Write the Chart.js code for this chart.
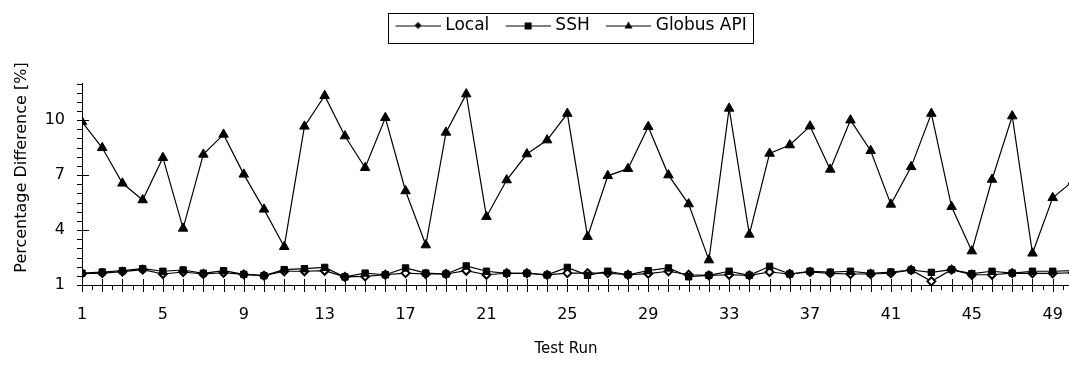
<!DOCTYPE html>
<html>
<head>
<meta charset="utf-8">
<script src="https://cdn.jsdelivr.net/npm/chart.js@4"></script>
<style>
  html, body { margin: 0; padding: 0; background: #fff; overflow: hidden; }
  #wrap { width: 1132px; height: 367px; }
</style>
</head>
<body>
<div id="wrap"><canvas id="chart"></canvas></div>
<script>
// ---- Data ----
const testRuns = [1, 2, 3, 4, 5, 6, 7, 8, 9, 10, 11, 12, 13, 14, 15, 16, 17, 18, 19, 20,
  21, 22, 23, 24, 25, 26, 27, 28, 29, 30, 31, 32, 33, 34, 35, 36, 37, 38, 39, 40,
  41, 42, 43, 44, 45, 46, 47, 48, 49, 50];

const localDiff = [1.62, 1.65, 1.73, 1.84, 1.60, 1.71, 1.60, 1.67, 1.58, 1.51,
  1.75, 1.75, 1.78, 1.44, 1.47, 1.56, 1.65, 1.60, 1.60, 1.78,
  1.56, 1.64, 1.64, 1.55, 1.65, 1.65, 1.65, 1.56, 1.62, 1.75,
  1.56, 1.53, 1.56, 1.53, 1.71, 1.60, 1.71, 1.64, 1.60, 1.60,
  1.64, 1.82, 1.20, 1.84, 1.56, 1.56, 1.65, 1.64, 1.64, 1.67];

const sshDiff = [1.65, 1.71, 1.78, 1.89, 1.75, 1.82, 1.64, 1.78, 1.58, 1.51,
  1.84, 1.89, 1.96, 1.44, 1.65, 1.56, 1.93, 1.65, 1.60, 2.04,
  1.75, 1.64, 1.64, 1.55, 1.96, 1.53, 1.75, 1.56, 1.78, 1.93,
  1.45, 1.53, 1.75, 1.53, 2.02, 1.60, 1.75, 1.70, 1.75, 1.64,
  1.71, 1.82, 1.69, 1.84, 1.62, 1.75, 1.65, 1.75, 1.75, 1.78];

const globusDiff = [9.91, 8.49, 6.55, 5.64, 7.95, 4.09, 8.13, 9.22, 7.04, 5.13,
  3.09, 9.66, 11.33, 9.13, 7.40, 10.13, 6.13, 3.18, 9.33, 11.42,
  4.73, 6.73, 8.15, 8.91, 10.36, 3.64, 6.96, 7.35, 9.64, 7.00,
  5.42, 2.36, 10.64, 3.76, 8.18, 8.64, 9.67, 7.31, 10.00, 8.33,
  5.40, 7.45, 10.36, 5.27, 2.85, 6.76, 10.22, 2.73, 5.76, 6.67];

const xLabelRuns = [1, 5, 9, 13, 17, 21, 25, 29, 33, 37, 41, 45, 49];
const yLabelValues = [1, 4, 7, 10];

// ---- Helpers ----
const FONT = "'DejaVu Sans', Verdana, sans-serif";
const LEGEND_FS = 17;
const LEAD = 10, LINE_LEN = 45, TEXT_GAP = 5;
const BOX_W = LEAD + LINE_LEN + TEXT_GAP - LEGEND_FS / 2;
const X_MAX = 52.6; // the picture is cut off just after run 50

function toPoints(values) {
  return testRuns.map((run, i) => ({ x: run, y: values[i] }));
}

// legend icon: short line with the marker in the middle
function makeIcon(style) {
  const w = Math.round(2 * (LEAD + LINE_LEN - BOX_W / 2));
  const h = 14;
  const c = document.createElement("canvas");
  c.width = w; c.height = h;
  const g = c.getContext("2d");
  const x0 = w - LINE_LEN, cy = h / 2, cx = x0 + LINE_LEN / 2;
  g.strokeStyle = "#000"; g.lineWidth = 1;
  g.beginPath(); g.moveTo(x0, cy + 0.5); g.lineTo(w, cy + 0.5); g.stroke();
  g.fillStyle = "#000";
  g.beginPath();
  if (style === "diamond") {
    g.moveTo(cx, cy - 3.5); g.lineTo(cx + 3.5, cy); g.lineTo(cx, cy + 3.5); g.lineTo(cx - 3.5, cy);
  } else if (style === "square") {
    g.rect(cx - 3.5, cy - 3, 7, 7);
  } else {
    g.moveTo(cx, cy - 4); g.lineTo(cx + 4, cy + 3); g.lineTo(cx - 4, cy + 3);
  }
  g.closePath(); g.fill();
  return c;
}
const legendIcons = [makeIcon("diamond"), makeIcon("square"), makeIcon("triangle")];

// tick marks (major ones cross the axis), axis titles, legend frame
const axisDecor = {
  id: "axisDecor",
  beforeDatasetsDraw(chart) {
    const { ctx, scales: { x, y } } = chart;
    ctx.save();
    ctx.strokeStyle = "#000";
    ctx.lineWidth = 1;
    ctx.beginPath();
    for (let v = 1; v <= X_MAX; v += 0.5) {
      const px = Math.round(x.getPixelForValue(v)) + 0.5;
      const major = v % 1 === 0;
      ctx.moveTo(px, y.bottom - (major ? 6 : 0));
      ctx.lineTo(px, y.bottom + (major ? 7 : 5));
    }
    for (let v = 1; v <= 12; v += 0.5) {
      const py = Math.round(y.getPixelForValue(v)) + 0.5;
      const major = yLabelValues.includes(v);
      ctx.moveTo(x.left - 5, py);
      ctx.lineTo(x.left + (major ? 7 : 0), py);
    }
    ctx.stroke();
    ctx.restore();
  },
  afterDraw(chart) {
    const { ctx, chartArea } = chart;
    ctx.save();
    ctx.fillStyle = "#000";
    ctx.textAlign = "center";
    ctx.textBaseline = "middle";
    ctx.font = "15px " + FONT;
    ctx.fillText("Test Run", chartArea.left + 484, chartArea.bottom + 64);
    ctx.font = "16px " + FONT;
    ctx.translate(chartArea.left - 60, chartArea.top + 84);
    ctx.rotate(-Math.PI / 2);
    ctx.fillText("Percentage Difference [%]", 0, 0);
    ctx.restore();

    const boxes = chart.legend.legendHitBoxes;
    if (boxes && boxes.length) {
      const first = boxes[0], last = boxes[boxes.length - 1];
      const l = Math.round(first.left + LEAD - 7) + 0.5;
      const r = Math.round(last.left + last.width + 6) + 0.5;
      ctx.save();
      ctx.strokeStyle = "#000";
      ctx.lineWidth = 1;
      ctx.strokeRect(l, 13.5, r - l, 30);
      ctx.restore();
    }
  }
};

// ---- Chart ----
const ctx = document.getElementById("chart").getContext("2d");
const chart = new Chart(ctx, {
  type: "line",
  data: {
    datasets: [
      {
        label: "Local",
        data: toPoints(localDiff),
        borderColor: "#000",
        borderWidth: 1.2,
        backgroundColor: "#fff",
        pointStyle: "rectRot",
        pointRadius: 4,
        pointBorderWidth: 2,
        pointBorderColor: "#000",
        pointBackgroundColor: "#fff",
        order: 2
      },
      {
        label: "SSH",
        data: toPoints(sshDiff),
        borderColor: "#000",
        borderWidth: 1.2,
        backgroundColor: "#000",
        pointStyle: "rect",
        pointRadius: 4.5,
        pointBorderWidth: 1,
        pointBorderColor: "#000",
        pointBackgroundColor: "#000",
        order: 1
      },
      {
        label: "Globus API",
        data: toPoints(globusDiff),
        borderColor: "#000",
        borderWidth: 1.2,
        backgroundColor: "#000",
        pointStyle: "triangle",
        pointRadius: 5.5,
        pointBorderWidth: 1,
        pointBorderColor: "#000",
        pointBackgroundColor: "#000",
        order: 0
      }
    ]
  },
  options: {
    responsive: true,
    maintainAspectRatio: false,
    animation: false,
    layout: { padding: { top: 11, left: 0, right: 0, bottom: 0 } },
    elements: { line: { tension: 0 } },
    plugins: {
      tooltip: { enabled: false },
      legend: {
        position: "top",
        weight: 3000,
        labels: {
          color: "#000",
          font: { family: FONT, size: LEGEND_FS },
          usePointStyle: true,
          pointStyleWidth: BOX_W,
          padding: 6,
          sort: (a, b) => a.datasetIndex - b.datasetIndex,
          generateLabels(chart) {
            const items = Chart.defaults.plugins.legend.labels.generateLabels(chart);
            items.forEach(it => { it.pointStyle = legendIcons[it.datasetIndex]; });
            return items;
          }
        }
      },
      // empty title used as a spacer between legend and plot
      title: {
        display: true,
        text: "",
        weight: 1000,
        font: { size: 10, lineHeight: 1 },
        padding: { top: 29.5, bottom: 0 }
      }
    },
    scales: {
      x: {
        type: "linear",
        min: 1,
        max: X_MAX,
        afterFit: s => { s.height = 82; },
        afterBuildTicks: s => { s.ticks = xLabelRuns.map(v => ({ value: v })); },
        border: { display: true, color: "#000", width: 1 },
        grid: { display: false, drawTicks: false },
        ticks: {
          autoSkip: false,
          maxRotation: 0,
          color: "#000",
          padding: 20,
          font: { family: FONT, size: 16 }
        }
      },
      y: {
        min: 1,
        max: 12,
        afterFit: s => { s.width = 82; },
        afterBuildTicks: s => { s.ticks = yLabelValues.map(v => ({ value: v })); },
        border: { display: true, color: "#000", width: 1 },
        grid: { display: false, drawTicks: false },
        ticks: {
          autoSkip: false,
          color: "#000",
          padding: 17,
          font: { family: FONT, size: 16 }
        }
      }
    }
  },
  plugins: [axisDecor]
});
</script>
</body>
</html>
